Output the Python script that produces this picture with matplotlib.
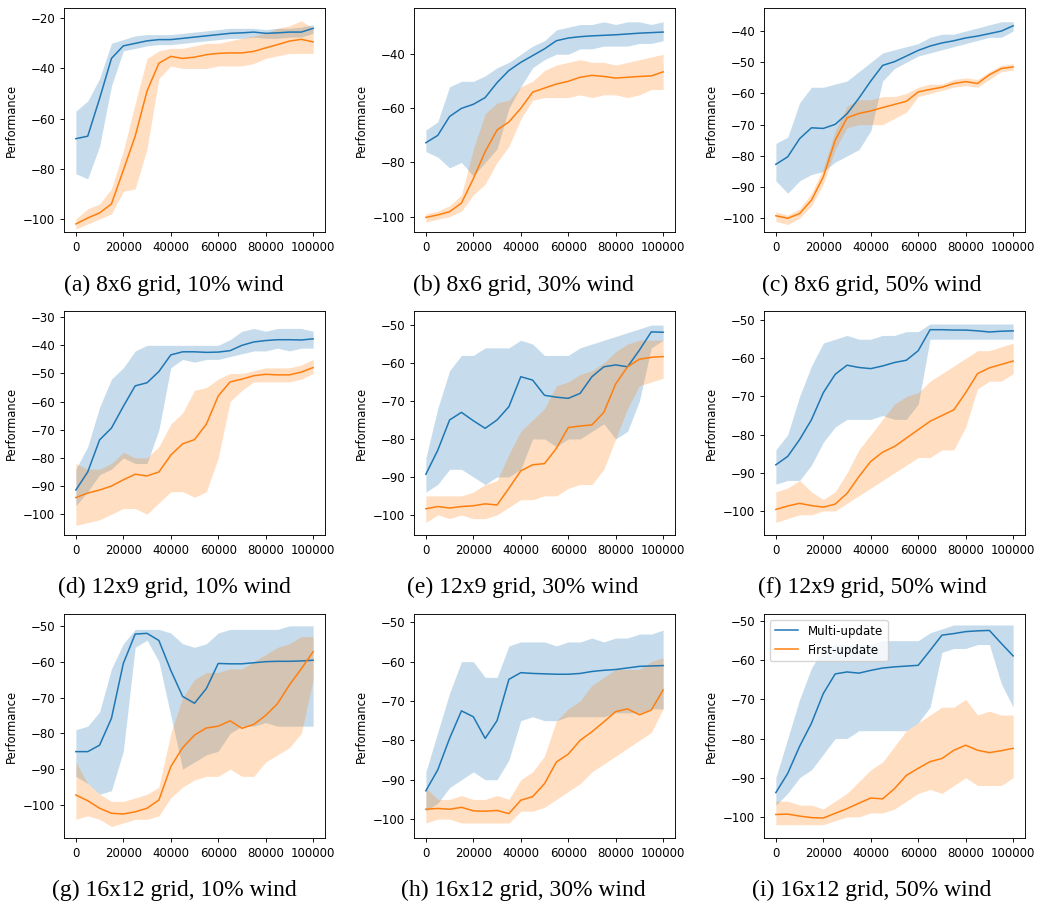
import matplotlib.pyplot as plt
from matplotlib.ticker import MultipleLocator

steps = [0, 5000, 10000, 15000, 20000, 25000, 30000, 35000, 40000, 45000, 50000,
         55000, 60000, 65000, 70000, 75000, 80000, 85000, 90000, 95000, 100000]

# (a) 8x6 grid, 10% wind
a_multi = [-68, -67, -52, -36, -31, -30, -29, -28.5, -28.5, -28, -27.5, -27, -26.5, -26, -25.8, -25.5, -26, -25.8, -25.5, -25.5, -24]
a_multi_lo = [-82, -84, -71, -47, -33, -32, -31, -30.5, -30.5, -30, -29.5, -29, -28.5, -28, -28, -27.5, -28, -28, -27.5, -27.5, -26]
a_multi_hi = [-57, -53, -44, -30, -28.5, -27, -26.5, -26.5, -26.5, -26, -25.5, -25, -24.5, -24, -24, -24, -24.5, -24, -24, -23.5, -22.5]
a_first = [-102, -99.6, -97.6, -94, -80.6, -67, -49, -37.9, -35.2, -36, -35.5, -34.5, -34, -33.8, -33.8, -33.2, -31.8, -30.5, -29.1, -28.4, -29.4]
a_first_lo = [-104, -102, -100, -98, -89, -88, -72, -44, -39, -40, -40, -40, -39, -39, -39, -38, -36, -35, -34, -34, -34]
a_first_hi = [-100, -96, -94, -88, -73, -54, -36, -33, -32, -32, -31, -30, -30, -29, -28, -27, -26, -24, -23, -21, -24]

# (b) 8x6 grid, 30% wind
b_multi = [-72.7, -70, -63, -60, -58.5, -56, -50.5, -46, -43, -40.5, -38, -35, -34, -33.5, -33.2, -33, -32.8, -32.5, -32.2, -32, -31.8]
b_multi_lo = [-76, -78, -82, -80, -85, -80, -75, -60, -52, -45, -42, -40, -40, -38, -38, -37, -37, -37, -36, -36, -35]
b_multi_hi = [-68, -65, -52, -50, -50, -48, -45, -43, -40, -37, -35, -31, -30, -29, -29, -28, -29, -28, -28, -29, -28]
b_first = [-100.3, -99.4, -98.2, -95, -86, -76, -68, -65, -60, -54, -52.5, -51, -50, -48.5, -47.8, -48.2, -48.8, -48.5, -48.2, -48, -46.5]
b_first_lo = [-102, -101, -100, -98, -92, -88, -80, -74, -64, -57, -56, -56, -56, -55, -56, -55, -55, -56, -55, -53, -53]
b_first_hi = [-99, -98, -96, -92, -75, -62, -58, -57, -52, -50, -46, -44, -43, -42, -43, -43, -44, -43, -42, -41, -40]

# (c) 8x6 grid, 50% wind
c_multi = [-82.7, -80.3, -74.5, -71, -71.2, -69.9, -66.5, -61.5, -56, -51, -49.8, -48, -46.2, -44.8, -43.8, -43.1, -42.2, -41.6, -40.8, -40, -38.3]
c_multi_lo = [-88, -92, -88, -86, -85, -82, -80, -78, -72, -56, -52, -50, -48, -47, -46, -45, -44, -43, -42, -42, -40]
c_multi_hi = [-76, -74, -63, -58, -58, -57, -56, -53, -50, -47, -46, -45, -44, -42, -41, -41, -40, -39, -38, -37, -37]
c_first = [-99.2, -100, -98.5, -94.2, -86.7, -75, -67.8, -66.4, -65.6, -64.5, -63.5, -62.5, -59.5, -58.7, -58, -56.8, -56.2, -56.8, -54, -52, -51.5]
c_first_lo = [-101, -102, -100, -96, -89, -78, -71, -70, -70, -70, -68, -66, -61, -60, -59, -58, -57.5, -58, -55.5, -53, -52.5]
c_first_hi = [-98, -99, -97, -92, -84, -72, -64, -62, -62, -61, -61, -60, -58, -57, -57, -55.5, -55, -55.5, -53, -51, -50.5]

# (d) 12x9 grid, 10% wind
d_multi = [-91.4, -85, -73.6, -69.4, -61.7, -54.4, -53.3, -49.3, -43.4, -42.3, -42.3, -42.5, -42.4, -41.9, -40, -38.8, -38.3, -38, -38, -38.1, -37.7]
d_multi_lo = [-97, -92, -86, -84, -80, -82, -82, -70, -48, -45, -46, -45, -45, -44, -43, -42, -42, -41, -42, -41, -41]
d_multi_hi = [-84, -76, -62, -52, -48, -42, -40, -40, -40, -40, -40, -40, -40, -38, -35, -34, -35, -34, -34, -34, -35]
d_first = [-94.1, -92.5, -91.4, -90, -87.8, -85.8, -86.4, -85, -79, -75, -73.5, -68, -58, -53, -52, -50.8, -50.3, -50.5, -50.5, -49.5, -47.9]
d_first_lo = [-104, -103, -102, -100, -98, -98, -100, -96, -92, -92, -94, -92, -80, -60, -56, -53, -53, -53, -53, -52, -50]
d_first_hi = [-82, -84, -84, -82, -78, -80, -80, -76, -68, -64, -56, -55, -52, -50, -50, -49, -48, -48, -48, -47, -45]

# (e) 12x9 grid, 30% wind
e_multi = [-89.3, -83, -75, -73, -75.2, -77.2, -75, -71.5, -63.6, -64.5, -68.5, -69, -69.3, -68, -63.6, -61, -60.5, -61, -56.6, -51.8, -51.9]
e_multi_lo = [-94, -92, -88, -88, -90, -92, -90, -90, -88, -80, -80, -82, -80, -80, -78, -76, -80, -78, -70, -56, -54]
e_multi_hi = [-85, -72, -62, -58, -58, -56, -56, -56, -54, -55, -58, -58, -58, -56, -55, -54, -53, -52, -51, -50, -50]
e_first = [-98.4, -97.8, -98.2, -97.8, -97.6, -97.1, -97.4, -93, -88.4, -86.8, -86.5, -82.5, -77, -76.6, -76.3, -73, -65.5, -61, -59, -58.5, -58.3]
e_first_lo = [-102, -100, -101, -100, -101, -101, -100, -98, -96, -96, -95, -95, -93, -92, -92, -88, -80, -72, -66, -65, -64]
e_first_hi = [-95, -95, -95, -95, -94, -92, -91, -84, -78, -75, -72, -66, -65, -63, -62, -60, -57, -55, -54, -54, -54]

# (f) 12x9 grid, 50% wind
f_multi = [-87.9, -85.7, -81.3, -76.1, -69, -64.2, -61.8, -62.4, -62.7, -62, -61.1, -60.5, -58, -52.5, -52.5, -52.6, -52.6, -52.8, -53.1, -52.9, -52.8]
f_multi_lo = [-93, -92, -92, -88, -82, -78, -76, -76, -76, -75, -76, -76, -72, -55, -55, -55, -55, -55, -55, -55, -55]
f_multi_hi = [-84, -80, -70, -62, -56, -55, -54, -55, -55, -54, -54, -53, -53, -51, -51, -51, -51, -51, -51, -51, -51]
f_first = [-99.6, -98.7, -98, -98.6, -99, -98.2, -95.4, -91, -87, -84.6, -83.1, -80.9, -78.7, -76.5, -75, -73.5, -69, -64, -62.5, -61.6, -60.7]
f_first_lo = [-103, -102, -101, -101, -100, -100, -98, -96, -94, -92, -90, -88, -86, -86, -84, -84, -78, -68, -66, -66, -64]
f_first_hi = [-95, -94, -92, -95, -97, -95, -90, -84, -80, -76, -72, -70, -69, -66, -64, -62, -60, -58, -58, -57, -56]

# (g) 16x12 grid, 10% wind
g_multi = [-85.1, -85.1, -83.3, -75.8, -60.5, -52.3, -52.1, -54.1, -62.4, -69.7, -71.6, -67.5, -60.5, -60.6, -60.6, -60.3, -60, -59.9, -59.9, -59.8, -59.6]
g_multi_lo = [-92, -94, -97, -96, -85, -56, -54, -60, -75, -90, -88, -86, -85, -80, -78, -78, -77, -78, -78, -78, -78]
g_multi_hi = [-79, -78, -74, -62, -55, -51, -51, -51, -52, -55, -56, -55, -52, -51, -51, -51, -51, -51, -50, -50, -50]
g_first = [-97.2, -98.8, -100.9, -102.3, -102.5, -101.9, -100.9, -98.6, -89.3, -84, -80.5, -78.5, -78, -76.5, -78.6, -77.5, -75, -71.7, -66.5, -62, -57.2]
g_first_lo = [-104, -103, -104, -106, -105, -104, -104, -103, -98, -95, -93, -92, -92, -90, -92, -92, -88, -86, -84, -80, -65]
g_first_hi = [-88, -94, -97, -99, -99, -98, -97, -95, -80, -70, -65, -63, -63, -62, -62, -60, -58, -56, -55, -53, -53]

# (h) 16x12 grid, 30% wind
h_multi = [-92.8, -87.5, -79.5, -72.5, -74, -79.5, -75, -64.5, -62.8, -63, -63.1, -63.2, -63.2, -63, -62.5, -62.2, -62, -61.6, -61.2, -61.1, -61]
h_multi_lo = [-98, -96, -92, -90, -88, -90, -90, -85, -75, -74, -75, -75, -74, -74, -74, -74, -73, -73, -73, -72, -72]
h_multi_hi = [-88, -78, -68, -60, -60, -64, -64, -56, -55, -55, -55, -56, -55, -55, -54, -55, -54, -54, -53, -53, -52]
h_first = [-97.5, -97.3, -97.5, -97, -97.9, -98, -97.8, -98.6, -95.2, -94.3, -91, -85.5, -83.5, -80, -77.8, -75.3, -72.7, -72, -73.5, -72.3, -67.2]
h_first_lo = [-101, -100, -100, -101, -101, -101, -101, -101, -98, -98, -97, -95, -93, -91, -88, -86, -84, -82, -80, -78, -72]
h_first_hi = [-92, -95, -95, -94, -95, -95, -94, -95, -90, -88, -84, -75, -72, -70, -66, -64, -62, -62, -62, -60, -59]

# (i) 16x12 grid, 50% wind
i_multi = [-93.8, -88.9, -82, -76.1, -68.5, -63.5, -63, -63.3, -62.6, -62, -61.7, -61.5, -61.3, -57.5, -53.6, -53.2, -52.7, -52.5, -52.4, -55.7, -58.9]
i_multi_lo = [-97, -94, -90, -88, -84, -80, -80, -78, -78, -78, -78, -78, -76, -72, -58, -57, -57, -56, -56, -66, -72]
i_multi_hi = [-90, -80, -70, -62, -57, -56, -56, -56, -56, -55, -55, -55, -55, -53, -52, -51, -51, -51, -51, -51, -51]
i_first = [-99.4, -99.3, -99.8, -100.2, -100.3, -99.1, -97.9, -96.5, -95.2, -95.4, -92.8, -89.4, -87.6, -85.9, -85.1, -83, -81.7, -83, -83.6, -83.1, -82.5]
i_first_lo = [-102, -102, -102, -102, -102, -101, -100, -100, -99, -99, -98, -96, -94, -93, -94, -92, -90, -92, -92, -92, -90]
i_first_hi = [-96, -96, -97, -97, -98, -96, -94, -91, -88, -86, -82, -78, -76, -74, -72, -72, -70, -74, -73, -74, -74]

captions = ['(a) 8x6 grid, 10% wind', '(b) 8x6 grid, 30% wind', '(c) 8x6 grid, 50% wind',
            '(d) 12x9 grid, 10% wind', '(e) 12x9 grid, 30% wind', '(f) 12x9 grid, 50% wind',
            '(g) 16x12 grid, 10% wind', '(h) 16x12 grid, 30% wind', '(i) 16x12 grid, 50% wind']
ylims = [(-105.2, -15.9), (-105.7, -22.9), (-104.4, -32.6),
         (-107.4, -27.8), (-105.3, -46.3), (-106.3, -47.6),
         (-109.2, -46.7), (-104.8, -47.9), (-105.4, -48.2)]
ysteps = [20, 20, 10, 10, 10, 10, 10, 10, 10]

multi = [a_multi, b_multi, c_multi, d_multi, e_multi, f_multi, g_multi, h_multi, i_multi]
multi_lo = [a_multi_lo, b_multi_lo, c_multi_lo, d_multi_lo, e_multi_lo, f_multi_lo, g_multi_lo, h_multi_lo, i_multi_lo]
multi_hi = [a_multi_hi, b_multi_hi, c_multi_hi, d_multi_hi, e_multi_hi, f_multi_hi, g_multi_hi, h_multi_hi, i_multi_hi]
first = [a_first, b_first, c_first, d_first, e_first, f_first, g_first, h_first, i_first]
first_lo = [a_first_lo, b_first_lo, c_first_lo, d_first_lo, e_first_lo, f_first_lo, g_first_lo, h_first_lo, i_first_lo]
first_hi = [a_first_hi, b_first_hi, c_first_hi, d_first_hi, e_first_hi, f_first_hi, g_first_hi, h_first_hi, i_first_hi]

W, H = 1040, 907
fig = plt.figure(figsize=(W / 100, H / 100), dpi=100)

col_left = [64, 414, 764]
row_top = [8, 311, 614]
cap_x = [174, 523, 872]
cap_y = [285, 587, 890]

for k in range(9):
    r, c = divmod(k, 3)
    ax = fig.add_axes([col_left[c] / W, 1 - (row_top[r] + 224) / H, 261 / W, 224 / H])
    ax.fill_between(steps, multi_lo[k], multi_hi[k], color='C0', alpha=0.25, lw=0)
    ax.fill_between(steps, first_lo[k], first_hi[k], color='C1', alpha=0.25, lw=0)
    ax.plot(steps, multi[k], color='C0', lw=1.1, label='Multi-update')
    ax.plot(steps, first[k], color='C1', lw=1.1, label='First-update')
    ax.set_xlim(-5000, 105000)
    ax.set_ylim(*ylims[k])
    ax.set_xticks([0, 20000, 40000, 60000, 80000, 100000])
    ax.yaxis.set_major_locator(MultipleLocator(ysteps[k]))
    ax.tick_params(labelsize=8.5, width=0.65, length=2.8)
    for s in ax.spines.values():
        s.set_linewidth(0.65)
    ax.set_ylabel('Performance', fontsize=8.3)
    if k == 8:
        ax.legend(loc='upper left', fontsize=8.5)
    fig.text(cap_x[c] / W, 1 - cap_y[r] / H, captions[k], ha='center', va='center',
             family='Liberation Serif', fontsize=17)

fig.savefig('out.png', dpi=100)
